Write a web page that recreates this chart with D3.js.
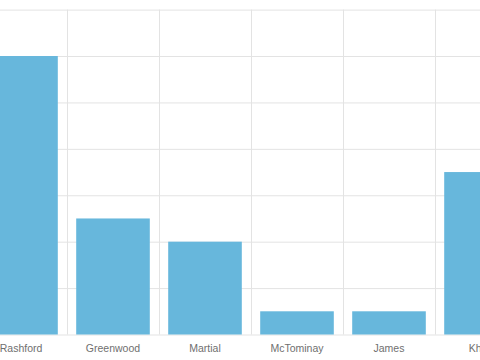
<!DOCTYPE html>
<html lang="en">
<head>
<meta charset="UTF-8">
<title>Bar chart</title>
<script src="https://d3js.org/d3.v7.min.js"></script>
<style>
  body { margin: 0; background: #fff; }
  svg { display: block; }
  .grid line { stroke: #e3e3e3; stroke-width: 1; }
  .grid .domain { display: none; }
  .xlab text { font-family: "Liberation Sans", Arial, sans-serif; font-size: 10.5px; fill: #6f6f6f; }
</style>
</head>
<body>
<svg width="480" height="360"></svg>
<script>

const players = ['Rashford', 'Greenwood', 'Martial', 'McTominay', 'James', 'Khan'];
const values = [6, 2.5, 2, 0.5, 0.5, 3.5];
const yTicks = [0, 1, 2, 3, 4, 5, 6, 7];

const svg = d3.select('svg');

const xScale = d3.scaleBand().domain(players).range([-25, 527]).paddingInner(0.2).paddingOuter(0.1);
const yScale = d3.scaleLinear().domain([0, 7]).range([334.5, 9.6]);

// horizontal grid
svg.append('g').attr('class', 'grid')
    .attr('transform', 'translate(0,0)')
    .call(d3.axisLeft(yScale).tickValues(yTicks).tickSize(-480).tickFormat(''));

// vertical grid between categories
const step = xScale.step();
const dividers = players.slice(1).map(p => xScale(p) - xScale.paddingInner() * step / 2);
svg.append('g').attr('class', 'grid')
    .selectAll('line')
    .data(dividers)
    .enter()
    .append('line')
    .attr('x1', d => Math.round(d) + 0.5)
    .attr('x2', d => Math.round(d) + 0.5)
    .attr('y1', yScale(7))
    .attr('y2', yScale(0));

svg.append('g')
    .selectAll('rect')
    .data(values)
    .enter()
    .append('rect')
    .attr('x', (d, i) => xScale(players[i]))
    .attr('width', xScale.bandwidth())
    .attr('y', d => yScale(d))
    .attr('height', d => yScale(0) - yScale(d))
    .attr('fill', '#67b7dc');

svg.append('g').attr('class', 'xlab')
    .selectAll('text')
    .data(players)
    .enter()
    .append('text')
    .attr('x', d => xScale(d) + xScale.bandwidth() / 2)
    .attr('y', 352)
    .attr('text-anchor', 'middle')
    .text(d => d);

</script>
</body>
</html>
